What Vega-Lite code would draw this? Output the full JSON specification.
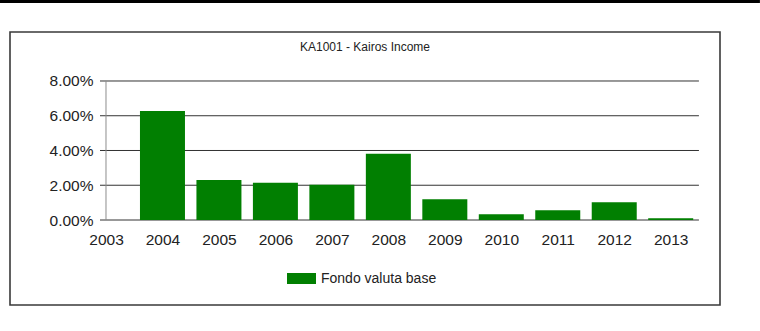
{
  "$schema": "https://vega.github.io/schema/vega-lite/v6.json",
  "width": 710,
  "height": 273,
  "autosize": {"type": "none"},
  "padding": {"left": 10, "top": 32, "right": 40, "bottom": 26},
  "background": "white",
  "title": {
    "text": "KA1001 - Kairos Income",
    "font": "Liberation Sans",
    "fontSize": 12,
    "fontWeight": "normal",
    "color": "#222222",
    "anchor": "middle",
    "frame": "group",
    "baseline": "alphabetic",
    "offset": -63
  },
  "config": {
    "view": {"stroke": "#3a3a3a", "strokeWidth": 1.6},
    "font": "Liberation Sans",
    "axisX": {
      "title": null, "offset": -85, "domain": false, "ticks": false, "tickSize": 0,
      "grid": false, "labelPadding": 12, "labelFontSize": 15.5, "labelFont": "Liberation Sans",
      "labelColor": "#222222", "labelFlush": false, "labelOverlap": false, "labelBound": false
    },
    "axisY": {
      "title": null, "offset": -96, "domain": false, "ticks": false, "tickSize": 0, "grid": false,
      "labelPadding": 13, "labelFontSize": 15.5, "labelFont": "Liberation Sans",
      "labelColor": "#222222", "labelOverlap": false, "labelBound": false, "labelFlush": false
    }
  },
  "datasets": {
    "rendimenti": [
      {"anno": 2004, "valore": 0.0628, "serie": "Fondo valuta base"},
      {"anno": 2005, "valore": 0.0230, "serie": "Fondo valuta base"},
      {"anno": 2006, "valore": 0.0214, "serie": "Fondo valuta base"},
      {"anno": 2007, "valore": 0.0203, "serie": "Fondo valuta base"},
      {"anno": 2008, "valore": 0.0381, "serie": "Fondo valuta base"},
      {"anno": 2009, "valore": 0.0119, "serie": "Fondo valuta base"},
      {"anno": 2010, "valore": 0.0033, "serie": "Fondo valuta base"},
      {"anno": 2011, "valore": 0.0056, "serie": "Fondo valuta base"},
      {"anno": 2012, "valore": 0.0102, "serie": "Fondo valuta base"},
      {"anno": 2013, "valore": 0.0010, "serie": "Fondo valuta base"}
    ],
    "griglia": [
      {"v": 0}, {"v": 0.02}, {"v": 0.04}, {"v": 0.06}, {"v": 0.08}
    ],
    "uno": [{}]
  },
  "layer": [
    {
      "data": {"name": "griglia"},
      "mark": {"type": "rule", "color": "#333333", "strokeWidth": 1},
      "encoding": {
        "y": {"field": "v", "type": "quantitative", "title": null,
              "scale": {"domain": [-0.04892, 0.10820], "nice": false, "zero": false, "padding": 0}},
        "x": {"datum": 2002.894, "title": null,
              "scale": {"domain": [2001.3, 2013.873], "nice": false, "zero": false, "padding": 0}},
        "x2": {"datum": 2013.5}
      }
    },
    {
      "data": {"name": "uno"},
      "mark": {"type": "rule", "color": "#8c8c8c", "strokeWidth": 1},
      "encoding": {
        "x": {"datum": 2003, "title": null},
        "y": {"datum": 0, "title": null},
        "y2": {"datum": 0.08}
      }
    },
    {
      "data": {"name": "rendimenti"},
      "mark": {"type": "bar", "size": 45},
      "encoding": {
        "x": {
          "field": "anno", "type": "quantitative", "title": null,
          "scale": {"domain": [2001.3, 2013.873], "nice": false, "zero": false, "padding": 0},
          "axis": {"values": [2003, 2004, 2005, 2006, 2007, 2008, 2009, 2010, 2011, 2012, 2013], "format": "d"}
        },
        "y": {
          "field": "valore", "type": "quantitative", "title": null,
          "scale": {"domain": [-0.04892, 0.10820], "nice": false, "zero": false, "padding": 0},
          "axis": {"values": [0, 0.02, 0.04, 0.06, 0.08], "format": ".2%"}
        },
        "color": {
          "field": "serie", "type": "nominal",
          "scale": {"range": ["#017f01"]},
          "legend": {
            "title": null, "orient": "none", "legendX": 277, "legendY": 232,
            "symbolType": "M-1,-0.38L1,-0.38L1,0.38L-1,0.38Z", "symbolSize": 841,
            "symbolStrokeWidth": 0, "symbolOpacity": 1, "labelOffset": 5, "padding": 0,
            "labelFontSize": 14, "labelFont": "Liberation Sans", "labelColor": "#222222"
          }
        }
      }
    },
    {
      "data": {"name": "uno"},
      "mark": {"type": "rule", "color": "#000000", "strokeWidth": 3},
      "encoding": {
        "y": {"datum": 0.12576, "title": null},
        "x": {"datum": 2001.123, "title": null},
        "x2": {"datum": 2014.58}
      }
    }
  ]
}
